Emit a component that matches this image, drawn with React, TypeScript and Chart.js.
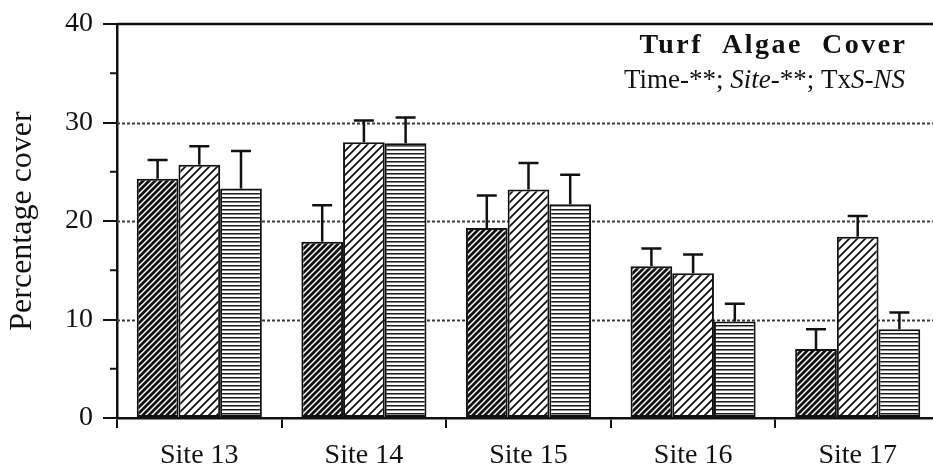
import { useEffect, useRef } from 'react';
import { Chart, registerables } from 'chart.js';

Chart.register(...registerables);

const SERIF = '"Liberation Serif", "Times New Roman", Times, serif';
const INK = '#111';

// Sampling sites along the x axis
const sites = ['Site 13', 'Site 14', 'Site 15', 'Site 16', 'Site 17'];

// Mean turf algae cover (%) for the three surveys, with standard errors
const survey1Cover = [24.3, 17.9, 19.3, 15.4, 7.0];
const survey1Error = [1.9, 3.7, 3.3, 1.8, 2.0];
const survey2Cover = [25.7, 28.0, 23.2, 14.7, 18.4];
const survey2Error = [1.9, 2.2, 2.7, 1.9, 2.1];
const survey3Cover = [23.3, 27.9, 21.7, 9.8, 9.0];
const survey3Error = [3.8, 2.6, 3.0, 1.8, 1.7];

// Axis ticks and reference lines
const yMajorStep = 10;
const yMin = 0;
const yMax = 40;
const yMinorTicks = [5, 15, 25, 35];
const yGridLines = [10, 20, 30];

const panelTitle = 'Turf  Algae  Cover';
// Significance summary, split into runs of upright / italic type
const statsRuns: [string, boolean][] = [
  ['Time-**; ', false],
  ['Site', true],
  ['-**; Tx', false],
  ['S-NS', true],
];

type Hatch = 'denseDiagonal' | 'diagonal' | 'horizontal';

function makePattern(kind: Hatch): CanvasPattern | string {
  const c = document.createElement('canvas');
  const ctx = c.getContext('2d');
  if (!ctx) return '#fff';
  if (kind === 'horizontal') {
    c.width = 4;
    c.height = 4;
    ctx.fillStyle = '#fff';
    ctx.fillRect(0, 0, 4, 4);
    ctx.fillStyle = '#1a1a1a';
    ctx.fillRect(0, 1, 4, 1);
    ctx.fillStyle = '#8a8a8a';
    ctx.fillRect(0, 2, 4, 1);
  } else {
    const s = kind === 'denseDiagonal' ? 6 : 8;
    c.width = s;
    c.height = s;
    ctx.fillStyle = '#fff';
    ctx.fillRect(0, 0, s, s);
    ctx.strokeStyle = '#111';
    ctx.lineWidth = kind === 'denseDiagonal' ? 2.8 : 1.8;
    ctx.beginPath();
    ctx.moveTo(-1, s + 1);
    ctx.lineTo(s + 1, -1);
    ctx.moveTo(-2, 2);
    ctx.lineTo(2, -2);
    ctx.moveTo(s - 2, s + 2);
    ctx.lineTo(s + 2, s - 2);
    ctx.stroke();
  }
  return ctx.createPattern(c, 'repeat') ?? '#fff';
}

// Dotted reference lines, top frame line and minor y ticks
const frameLines = {
  id: 'frameLines',
  beforeDatasetsDraw(chart: any) {
    const { ctx, chartArea } = chart;
    const y = chart.scales.y;
    ctx.save();
    ctx.strokeStyle = '#3a3a3a';
    ctx.lineWidth = 2;
    ctx.setLineDash([3, 2]);
    yGridLines.forEach((v) => {
      const py = Math.round(y.getPixelForValue(v)) + 0.5;
      ctx.beginPath();
      ctx.moveTo(chartArea.left, py);
      ctx.lineTo(chartArea.right, py);
      ctx.stroke();
    });
    ctx.setLineDash([]);
    ctx.strokeStyle = INK;
    ctx.lineWidth = 2.5;
    const top = y.getPixelForValue(yMax);
    ctx.beginPath();
    ctx.moveTo(chartArea.left, top);
    ctx.lineTo(chartArea.right, top);
    ctx.stroke();
    ctx.lineWidth = 2;
    yMinorTicks.forEach((v) => {
      const py = y.getPixelForValue(v);
      ctx.beginPath();
      ctx.moveTo(chartArea.left - 7, py);
      ctx.lineTo(chartArea.left, py);
      ctx.stroke();
    });
    ctx.restore();
  },
};

const errorBars = {
  id: 'errorBars',
  afterDatasetsDraw(chart: any) {
    const { ctx } = chart;
    const y = chart.scales.y;
    chart.data.datasets.forEach((ds: any, i: number) => {
      const meta = chart.getDatasetMeta(i);
      meta.data.forEach((bar: any, j: number) => {
        const tip = y.getPixelForValue(ds.data[j] + ds.errors[j]);
        ctx.save();
        ctx.strokeStyle = INK;
        ctx.lineWidth = 2.5;
        ctx.beginPath();
        ctx.moveTo(bar.x, bar.y);
        ctx.lineTo(bar.x, tip);
        ctx.moveTo(bar.x - 10, tip);
        ctx.lineTo(bar.x + 10, tip);
        ctx.stroke();
        ctx.restore();
      });
    });
  },
};

const panelHeading = {
  id: 'panelHeading',
  afterDraw(chart: any) {
    const { ctx } = chart;
    const right = 905;
    ctx.save();
    ctx.fillStyle = INK;
    ctx.textBaseline = 'alphabetic';
    ctx.textAlign = 'left';
    ctx.font = `bold 28px ${SERIF}`;
    (ctx as any).letterSpacing = '2.5px';
    const tw = ctx.measureText(panelTitle).width - 2.5;
    ctx.fillText(panelTitle, right - tw, 53);
    (ctx as any).letterSpacing = '0px';
    const fontFor = (italic: boolean) => `${italic ? 'italic ' : ''}27px ${SERIF}`;
    let total = 0;
    statsRuns.forEach(([t, it]) => {
      ctx.font = fontFor(it);
      total += ctx.measureText(t).width;
    });
    let x = right - total;
    statsRuns.forEach(([t, it]) => {
      ctx.font = fontFor(it);
      ctx.fillText(t, x, 88);
      x += ctx.measureText(t).width;
    });
    ctx.restore();
  },
};

export default function App() {
  const canvasRef = useRef<HTMLCanvasElement | null>(null);

  useEffect(() => {
    const canvas = canvasRef.current;
    if (!canvas) return;
    const chart = new Chart(canvas, {
      type: 'bar',
      data: {
        labels: sites,
        datasets: [
          {
            label: 'Survey 1',
            data: survey1Cover,
            errors: survey1Error,
            backgroundColor: makePattern('denseDiagonal'),
          },
          {
            label: 'Survey 2',
            data: survey2Cover,
            errors: survey2Error,
            backgroundColor: makePattern('diagonal'),
          },
          {
            label: 'Survey 3',
            data: survey3Cover,
            errors: survey3Error,
            backgroundColor: makePattern('horizontal'),
          },
        ].map((d) => ({
          ...d,
          borderColor: INK,
          borderWidth: 2,
          borderSkipped: false,
          categoryPercentage: 0.76,
          barPercentage: 1,
        })) as any,
      },
      options: {
        responsive: false,
        animation: false,
        devicePixelRatio: 1,
        layout: { padding: { top: 15, right: 4, left: 0, bottom: 0 } },
        plugins: {
          legend: { display: false },
          tooltip: { enabled: false },
        },
        scales: {
          x: {
            offset: true,
            grid: {
              display: true,
              offset: true,
              drawOnChartArea: false,
              tickLength: 10,
              color: INK,
              lineWidth: 2,
            },
            border: { display: true, color: INK, width: 2.5 },
            ticks: {
              font: { family: SERIF, size: 28, lineHeight: 1 },
              color: INK,
              padding: 14,
            },
            afterFit(scale: any) {
              scale.height = 54;
            },
          },
          y: {
            min: yMin,
            max: yMax,
            ticks: {
              stepSize: yMajorStep,
              font: { family: SERIF, size: 28, lineHeight: 1 },
              color: INK,
              padding: 10,
            },
            grid: {
              drawOnChartArea: false,
              tickLength: 14,
              color: INK,
              lineWidth: 2,
            },
            border: { display: true, color: INK, width: 2.5 },
            title: {
              display: true,
              text: 'Percentage cover',
              font: { family: SERIF, size: 32, lineHeight: 1.2 },
              color: INK,
              padding: { top: 3, bottom: 0 },
            },
            afterFit(scale: any) {
              scale.width = 117;
            },
          },
        },
      } as any,
      plugins: [frameLines, errorBars, panelHeading],
    });
    return () => chart.destroy();
  }, []);

  return (
    <div
      style={{
        position: 'fixed',
        left: 0,
        top: 0,
        width: 933,
        height: 472,
        overflow: 'hidden',
        background: '#fff',
      }}
    >
      <canvas ref={canvasRef} width={944} height={472} style={{ display: 'block' }} />
    </div>
  );
}
